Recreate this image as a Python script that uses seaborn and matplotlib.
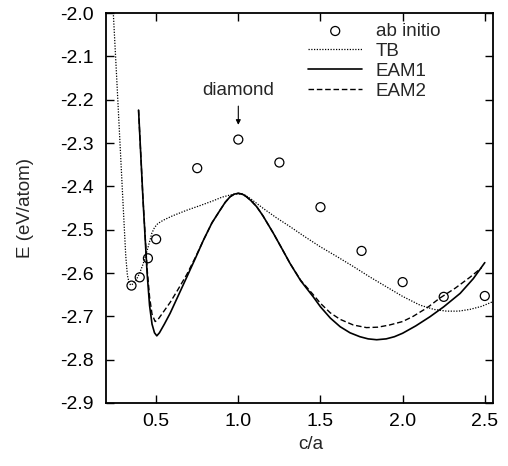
import matplotlib
matplotlib.use("Agg")
import matplotlib.pyplot as plt
import seaborn as sns
import numpy as np

# ab initio points
abi_x = [0.35, 0.40, 0.45, 0.50, 0.75, 1.00, 1.25, 1.50, 1.75, 2.00, 2.25, 2.50]
abi_e = [-2.629, -2.610, -2.566, -2.522, -2.358, -2.292, -2.345, -2.448, -2.549, -2.621, -2.655, -2.653]

# TB curve
tb_x = [0.24, 0.26, 0.28, 0.30, 0.315, 0.325, 0.335, 0.345, 0.36, 0.38, 0.40, 0.42, 0.443,
        0.46, 0.474, 0.49, 0.51, 0.544, 0.60, 0.687, 0.77, 0.849, 0.90, 0.95, 1.0, 1.04,
        1.08, 1.152, 1.23, 1.315, 1.40, 1.497, 1.60, 1.70, 1.80, 1.902, 2.0, 2.105, 2.19,
        2.267, 2.34, 2.409, 2.48, 2.55]
tb_e = [-2.005, -2.15, -2.30, -2.45, -2.56, -2.605, -2.622, -2.628, -2.625, -2.615, -2.600,
        -2.580, -2.551, -2.528, -2.508, -2.495, -2.486, -2.478, -2.468, -2.455, -2.444,
        -2.433, -2.425, -2.420, -2.417, -2.420, -2.430, -2.451, -2.472, -2.493, -2.515,
        -2.539, -2.562, -2.585, -2.609, -2.632, -2.654, -2.674, -2.684, -2.688, -2.688,
        -2.684, -2.677, -2.666]

# EAM1 curve
eam1_x = [0.393, 0.42, 0.445, 0.46, 0.475, 0.49, 0.504, 0.52, 0.55, 0.585, 0.63, 0.687,
          0.74, 0.788, 0.84, 0.889, 0.92, 0.95, 0.975, 1.0, 1.025, 1.05, 1.08, 1.112, 1.15,
          1.213, 1.26, 1.315, 1.38, 1.456, 1.50, 1.56, 1.62, 1.68, 1.74, 1.79, 1.842, 1.90,
          1.95, 2.0, 2.08, 2.166, 2.25, 2.35, 2.43, 2.5]
eam1_e = [-2.224, -2.43, -2.60, -2.675, -2.718, -2.738, -2.745, -2.738, -2.718, -2.693,
          -2.656, -2.609, -2.565, -2.524, -2.484, -2.455, -2.437, -2.424, -2.418, -2.416,
          -2.418, -2.424, -2.434, -2.447, -2.468, -2.508, -2.540, -2.578, -2.618, -2.655,
          -2.678, -2.704, -2.724, -2.738, -2.747, -2.752, -2.754, -2.752, -2.747, -2.739,
          -2.722, -2.701, -2.678, -2.647, -2.613, -2.576]

# EAM2 curve
eam2_x = [0.393, 0.42, 0.445, 0.46, 0.475, 0.494, 0.51, 0.54, 0.585, 0.63, 0.687, 0.74,
          0.788, 0.84, 0.889, 0.92, 0.95, 0.975, 1.0, 1.025, 1.05, 1.08, 1.112, 1.15, 1.213,
          1.26, 1.315, 1.38, 1.456, 1.50, 1.56, 1.62, 1.70, 1.78, 1.85, 1.92, 2.0, 2.064,
          2.15, 2.226, 2.32, 2.409, 2.48]
eam2_e = [-2.224, -2.43, -2.59, -2.655, -2.695, -2.712, -2.708, -2.692, -2.668, -2.640,
          -2.603, -2.563, -2.524, -2.484, -2.455, -2.437, -2.424, -2.418, -2.416, -2.418,
          -2.424, -2.434, -2.447, -2.468, -2.508, -2.540, -2.578, -2.617, -2.650, -2.670,
          -2.692, -2.707, -2.720, -2.726, -2.725, -2.720, -2.712, -2.700, -2.680, -2.658,
          -2.635, -2.610, -2.588]

sns.set_style("ticks")
plt.rcParams['font.family'] = ['Liberation Sans', 'DejaVu Sans']

fig = plt.figure(figsize=(5.08, 4.66), dpi=100)
ax = fig.add_axes([0.2087, 0.1352, 0.7618, 0.8368])

sns.scatterplot(x=abi_x, y=abi_e, ax=ax, marker='o', s=42, facecolor='none',
                edgecolor='black', linewidth=0.9, label='ab initio', zorder=3)
sns.lineplot(x=tb_x, y=tb_e, ax=ax, sort=False, estimator=None, color='black',
             linewidth=0.9, linestyle=(0, (1, 1.2)), label='TB')
sns.lineplot(x=eam1_x, y=eam1_e, ax=ax, sort=False, estimator=None, color='black',
             linewidth=1.2, linestyle='-', label='EAM1')
sns.lineplot(x=eam2_x, y=eam2_e, ax=ax, sort=False, estimator=None, color='black',
             linewidth=1.0, linestyle=(0, (4, 2)), label='EAM2')

ax.set_xlim(0.195, 2.55)
ax.set_ylim(-2.9, -2.0)
ax.set_xticks([0.5, 1.0, 1.5, 2.0, 2.5])
ax.set_yticks(np.round(np.arange(-2.9, -1.95, 0.1), 1))
ax.xaxis.set_major_formatter(matplotlib.ticker.FormatStrFormatter('%.1f'))
ax.yaxis.set_major_formatter(matplotlib.ticker.FormatStrFormatter('%.1f'))
ax.tick_params(direction='in', top=True, right=True, length=6, width=1.0,
               labelsize=14, color='black', labelcolor='black')
ax.tick_params(axis='y', pad=9)
ax.tick_params(axis='x', pad=7)
for sp in ax.spines.values():
    sp.set_visible(True)
    sp.set_linewidth(1.3)
    sp.set_color('black')

ax.set_xlabel('c/a', fontsize=13.5)
ax.set_ylabel('E (eV/atom)', fontsize=13.5)
ax.xaxis.set_label_coords(0.53, -0.085)
ax.yaxis.set_label_coords(-0.185, 0.5)

ax.annotate('diamond', xy=(1.0, -2.258), xytext=(1.0, -2.178),
            ha='center', va='center', fontsize=13.5,
            arrowprops=dict(arrowstyle='-|>', color='black', lw=0.8,
                            mutation_scale=7, shrinkA=3, shrinkB=0))

leg = ax.legend(loc='upper left', frameon=False, fontsize=13.5, handlelength=2.9,
                handletextpad=0.7, labelspacing=0.15, borderpad=0, borderaxespad=0,
                bbox_to_anchor=(0.522, 0.975))

fig.savefig('out.png', dpi=100)
